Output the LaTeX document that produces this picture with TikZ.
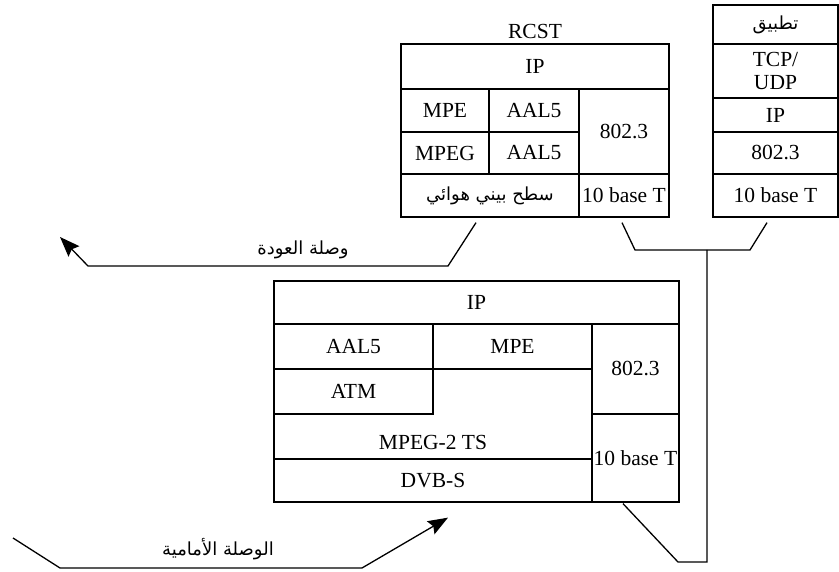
\documentclass[tikz,border=0pt]{standalone}
\usepackage{fontspec}
\setmainfont{Liberation Serif}
\newfontfamily\arabicfont[Script=Arabic]{DejaVu Sans}
\TeXXeTstate=1
\usetikzlibrary{arrows.meta}

\begin{document}
\begin{tikzpicture}[x=1pt,y=-1pt,>={Stealth[length=20pt,width=15pt,inset=3pt]},line width=1.3pt,
  font=\fontsize{21.5}{23}\selectfont,
  layer/.style={draw,inner sep=1pt,align=center},
  artext/.style={font=\arabicfont\fontsize{18}{20}\selectfont}]
 \useasboundingbox (0,0) rectangle (839,572);

 % RCST stack
 \node (rcst) at (535,31) {RCST};
 \node[layer,minimum width=268pt,minimum height=45pt] (rip)   at (535,66.5)  {IP};
 \node[layer,minimum width=88pt,minimum height=43pt]  (rmpe)  at (445,110.5) {MPE};
 \node[layer,minimum width=90pt,minimum height=43pt]  (raal)  at (534,110.5) {AAL5};
 \node[layer,minimum width=88pt,minimum height=42pt]  (rmpeg) at (445,153)   {MPEG};
 \node[layer,minimum width=90pt,minimum height=42pt]  (raalb) at (534,153)   {AAL5};
 \node[layer,minimum width=90pt,minimum height=85pt]  (reth)  at (624,131.5) {802.3};
 \node[layer,minimum width=178pt,minimum height=43pt,artext] (rair) at (490,195.5) {\beginR سطح بيني هوائي\endR};
 \node[layer,minimum width=90pt,minimum height=43pt]  (rbase) at (624,195.5) {10 base T};

 % host stack
 \node[layer,minimum width=125pt,minimum height=39pt,artext] (lapp) at (775.5,24.5) {\beginR تطبيق\endR};
 \node[layer,minimum width=125pt,minimum height=54pt] (ltcp)  at (775.5,71)    {TCP/\\UDP};
 \node[layer,minimum width=125pt,minimum height=34pt] (lip)   at (775.5,115)   {IP};
 \node[layer,minimum width=125pt,minimum height=42pt] (leth)  at (775.5,153)   {802.3};
 \node[layer,minimum width=125pt,minimum height=43pt] (lbase) at (775.5,195.5) {10 base T};

 % gateway stack
 \node[layer,minimum width=405pt,minimum height=43pt] (bip)   at (476.5,302.5) {IP};
 \node[layer,minimum width=318pt,minimum height=90pt,
       label={[yshift=-28pt]center:MPEG-2 TS}]        (bts)   at (433,414)     {};
 \node[layer,minimum width=159pt,minimum height=45pt] (baal)  at (353.5,346.5) {AAL5};
 \node[layer,minimum width=159pt,minimum height=45pt] (bmpe)  at (512.5,346.5) {MPE};
 \node[layer,minimum width=159pt,minimum height=45pt] (batm)  at (353.5,391.5) {ATM};
 \node[layer,minimum width=87pt,minimum height=90pt]  (beth)  at (635.5,369)   {802.3};
 \node[layer,minimum width=87pt,minimum height=88pt]  (bbase) at (635.5,458)   {10 base T};
 \node[layer,minimum width=318pt,minimum height=43pt] (bdvb)  at (433,480.5)   {DVB-S};

 % return link
 \coordinate (r1) at ([xshift=-14pt,yshift=-5pt]rair.south);
 \coordinate (r2) at (448,266);
 \coordinate (r3) at (88,266);
 \coordinate (r4) at (60,237);
 \draw[->] (r1) -- (r2) -- (r3) -- (r4);
 \node[artext] (rlab) at (303,250) {\beginR وصلة العودة\endR};

 % ethernet
 \coordinate (e1) at ([xshift=-2pt,yshift=-5pt]rbase.south);
 \coordinate (e2) at (635,250);
 \coordinate (e3) at (750,250);
 \coordinate (e4) at ([xshift=-8.5pt,yshift=-5pt]lbase.south);
 \coordinate (e5) at (707,250);
 \coordinate (e6) at (707,562);
 \coordinate (e7) at (678,562);
 \coordinate (e8) at ([xshift=-12.5pt,yshift=-1pt]bbase.south);
 \draw (e1) -- (e2) -- (e3) -- (e4);
 \draw (e5) -- (e6) -- (e7) -- (e8);

 % forward link
 \coordinate (f1) at (13,538);
 \coordinate (f2) at (60,568);
 \coordinate (f3) at (362,568);
 \coordinate (f4) at ([xshift=15pt,yshift=-15pt]bdvb.south);
 \draw[->] (f1) -- (f2) -- (f3) -- (f4);
 \node[artext] (flab) at (218,549) {\beginR الوصلة الأمامية\endR};
\end{tikzpicture}
\end{document}
